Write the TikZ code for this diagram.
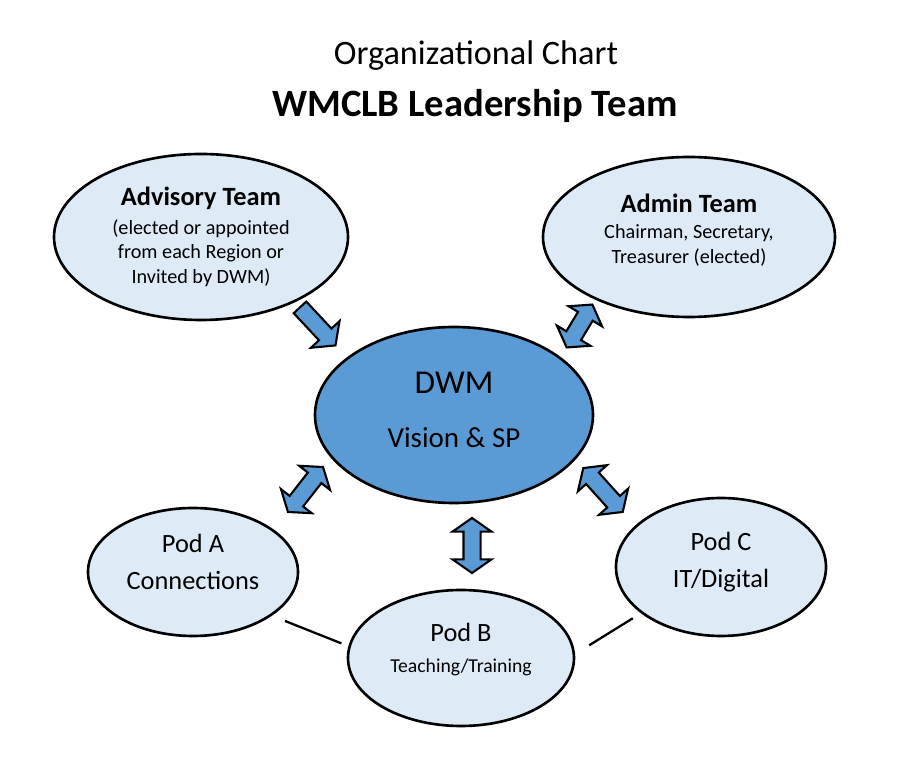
\documentclass[tikz,border=0pt]{standalone}
\usepackage{fontspec}
\setmainfont{Carlito}
\setsansfont{Carlito}
\usetikzlibrary{shapes.geometric,shapes.arrows}
\definecolor{podfill}{HTML}{DEEBF7}
\definecolor{dwmblue}{HTML}{5B9BD5}
\tikzset{
  every picture/.style={font=\sffamily}}

\begin{document}
\begin{tikzpicture}
    \tikzstyle{team}=[ellipse, draw, line width=1.5pt, fill=podfill, inner sep=0pt, align=center]
    \tikzstyle{fat}=[draw, line width=1.2pt, fill=dwmblue, inner xsep=0pt, inner ysep=0.15cm]
    \tikzstyle{twoway}=[fat, double arrow, double arrow head extend=0.22cm, double arrow tip angle=110]

    \useasboundingbox (0, 0) rectangle (17.98, 15.44);

    \node[anchor=base, font=\fontsize{19.5}{23}\selectfont] (O) at (9.52, 14.14) {Organizational Chart};
    \node[anchor=base, font=\bfseries\fontsize{22}{26}\selectfont] (L) at (9.50, 13.10) {WMCLB Leadership Team};

    \begin{scope}[every node/.append style={font=\fontsize{11.5}{14}\selectfont}]
      \node[team, minimum width=5.88cm, minimum height=3.32cm] (A) at (4.02, 10.70)
        {{\bfseries\fontsize{15}{17}\selectfont Advisory Team}\\[2pt]
         (elected or appointed\\from each Region or\\Invited by DWM)};
      \node[team, minimum width=5.84cm, minimum height=3.20cm, text depth=0.34cm] (M) at (13.78, 10.70)
        {{\bfseries\fontsize{15}{17}\selectfont Admin Team}\\[1pt]
         Chairman, Secretary,\\Treasurer (elected)};
    \end{scope}

    \node[team, fill=dwmblue, minimum width=5.56cm, minimum height=3.52cm, text depth=0.2cm,
      font=\fontsize{16.5}{20}\selectfont] (D) at (9.08, 7.14)
      {{\fontsize{19}{23}\selectfont DWM}\\[11pt]Vision \& SP};

    \begin{scope}[every node/.append style={font=\fontsize{15}{18}\selectfont}]
      \node[team, minimum width=4.20cm, minimum height=2.56cm, text depth=0.4cm] (PA) at (3.86, 4.00)
        {Pod A\\[3pt]Connections};
      \node[team, minimum width=4.52cm, minimum height=2.72cm, text depth=0.4cm,
        font=\fontsize{11.2}{13.5}\selectfont] (PB) at (9.22, 2.28)
        {{\fontsize{15}{18}\selectfont Pod B}\\[4.5pt]Teaching/Training};
      \node[team, minimum width=4.20cm, minimum height=2.76cm, text depth=0.28cm] (PC) at (14.42, 4.10)
        {Pod C\\[3pt]IT/Digital};
    \end{scope}

    % block arrows
    \begin{scope}
      \node[fat, single arrow, single arrow head extend=0.22cm, single arrow tip angle=105,
        minimum height=1.04cm, rotate=-47] (AD) at (6.31, 8.96) {};
      \node[twoway, minimum height=1.00cm, rotate=59]  (MD) at (11.59, 8.92) {};
      \node[twoway, minimum height=1.14cm, rotate=52]  (DA) at (6.11, 5.65) {};
      \node[twoway, minimum height=1.10cm, rotate=90]  (DB) at (9.44, 4.53) {};
      \node[twoway, minimum height=1.18cm, rotate=-48] (DC) at (12.06, 5.64) {};
    \end{scope}

    \draw[line width=1.3pt, shorten <=0.28cm, shorten >=0.15cm] (PA.-29) -- (PB.174);
    \draw[line width=1.3pt, shorten <=0.33cm, shorten >=0.19cm] (PB.2) -- (PC.210);
\end{tikzpicture}
\end{document}
